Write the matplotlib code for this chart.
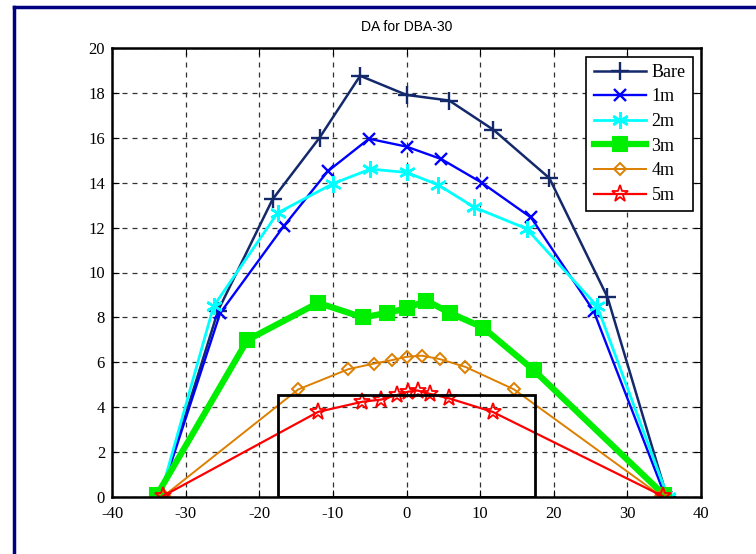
import matplotlib
matplotlib.use("Agg")
import matplotlib.pyplot as plt
from matplotlib.lines import Line2D
from matplotlib.patches import Rectangle

# Dynamic aperture boundaries (x in mm, y in mm)
bare_x = [-33.5, -25.6, -18.2, -11.8, -6.3, 0.0, 5.8, 11.8, 19.4, 27.3, 35.4]
bare_y = [0.0, 8.3, 13.25, 16.0, 18.75, 17.9, 17.65, 16.35, 14.2, 8.9, 0.0]

m1_x = [-33.5, -25.3, -16.7, -10.7, -5.1, 0.0, 4.7, 10.2, 16.9, 25.4, 35.2]
m1_y = [0.0, 8.2, 12.05, 14.5, 15.95, 15.6, 15.05, 14.0, 12.45, 8.3, 0.0]

m2_x = [-33.5, -26.2, -17.5, -10.0, -4.9, 0.0, 4.3, 9.2, 16.3, 25.9, 35.5]
m2_y = [0.0, 8.5, 12.65, 13.95, 14.6, 14.45, 13.9, 12.9, 11.95, 8.5, 0.0]

m3_x = [-33.9, -21.6, -12.0, -5.9, -2.7, 0.0, 2.7, 5.9, 10.4, 17.3, 35.0]
m3_y = [0.1, 7.0, 8.65, 8.0, 8.2, 8.4, 8.75, 8.2, 7.55, 5.65, 0.1]

m4_x = [-33.0, -14.7, -7.9, -4.4, -2.0, 0.0, 2.1, 4.5, 8.0, 14.6, 34.6]
m4_y = [0.05, 4.8, 5.7, 5.95, 6.1, 6.25, 6.3, 6.15, 5.8, 4.8, 0.05]

m5_x = [-33.1, -12.0, -6.0, -3.4, -1.3, 0.25, 1.5, 3.2, 5.8, 11.7, 34.8]
m5_y = [0.05, 3.8, 4.25, 4.35, 4.55, 4.7, 4.75, 4.6, 4.4, 3.8, 0.05]

# Required aperture box: half-width and height
box_half_width = 17.5
box_height = 4.55

x_ticks = [-40, -30, -20, -10, 0, 10, 20, 30, 40]
y_ticks = [0, 2, 4, 6, 8, 10, 12, 14, 16, 18, 20]

serif = ["Liberation Serif", "DejaVu Serif"]
sans = ["Liberation Sans", "DejaVu Sans"]

fig = plt.figure(figsize=(7.56, 5.54), dpi=100)
ax = fig.add_axes([112 / 756, 1 - 497.3 / 554, 589 / 756, 449.6 / 554])

series = [
    ("Bare", bare_x, bare_y, dict(color="#14296b", lw=1.8, marker="+", ms=13, mew=1.7)),
    ("1m", m1_x, m1_y, dict(color="#0000ff", lw=1.7, marker="x", ms=9, mew=1.7)),
    ("2m", m2_x, m2_y, dict(color="#00ffff", lw=2.0, marker=(6, 2, 0), ms=12, mew=1.8)),
    ("3m", m3_x, m3_y, dict(color="#00ee00", lw=4.5, marker="s", ms=10.5, mew=1.5,
                            mfc="#00ee00", mec="#00ee00")),
    ("4m", m4_x, m4_y, dict(color="#dd7f00", lw=1.4, marker="D", ms=6.5, mew=1.4,
                            mfc="none")),
    ("5m", m5_x, m5_y, dict(color="#ff0000", lw=1.6, marker="*", ms=12.5, mew=1.3,
                            mfc="none")),
]

handles = []
for label, xs, ys, style in series:
    h, = ax.plot(xs, ys, label=label, zorder=3, **style)
    handles.append(h)

ax.add_patch(Rectangle((-box_half_width, 0), 2 * box_half_width, box_height,
                       fill=False, edgecolor="black", lw=2.0, zorder=4))

ax.set_xlim(-40, 40)
ax.set_ylim(0, 20)
ax.set_xticks(x_ticks)
ax.set_yticks(y_ticks)
ax.set_xticklabels([str(v) for v in x_ticks], family=serif, fontsize=12)
ax.set_yticklabels([str(v) for v in y_ticks], family=serif, fontsize=12)
ax.tick_params(direction="in", top=True, right=True, length=5, width=0.8)
ax.tick_params(axis="x", pad=6)
ax.tick_params(axis="y", pad=5)
ax.grid(True, color="#333333", linestyle=(0, (4, 4)), linewidth=0.9)
ax.set_axisbelow(True)
for sp in ax.spines.values():
    sp.set_linewidth(1.8)
    sp.set_zorder(5)

ax.set_title("DA for DBA-30", family=sans, fontsize=10, pad=12)

leg = ax.legend(handles=handles, loc="upper right", bbox_to_anchor=(0.986, 0.98),
                borderaxespad=0, prop={"family": serif, "size": 13},
                handlelength=2.9, handletextpad=0.3, labelspacing=0.42,
                borderpad=0.4, fancybox=False, framealpha=1, edgecolor="black")
leg.get_frame().set_linewidth(1.2)

# Figure frame on the left and top edges
fig.add_artist(Line2D([14 / 756, 14 / 756], [0, 1 - 6.5 / 554],
                      transform=fig.transFigure, color="#000080", lw=2.5))
fig.add_artist(Line2D([14 / 756, 1], [1 - 6.5 / 554, 1 - 6.5 / 554],
                      transform=fig.transFigure, color="#000080", lw=2.5))

fig.savefig("out.png", dpi=100)
